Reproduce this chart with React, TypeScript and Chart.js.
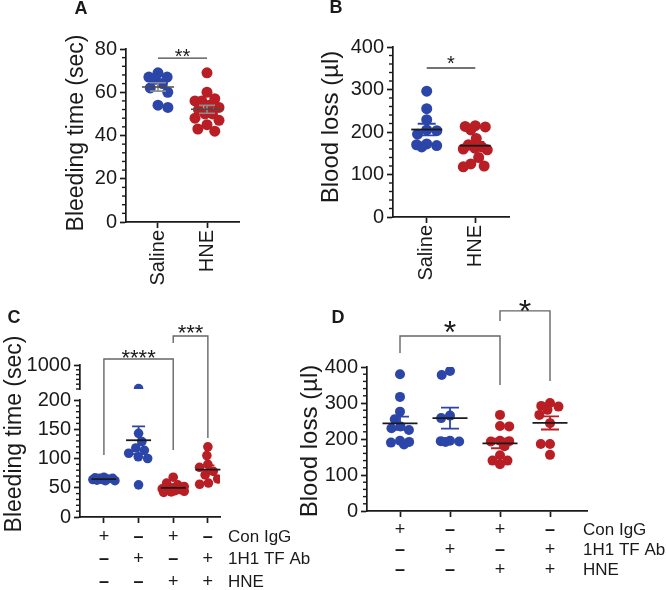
import React, { useEffect, useRef } from 'react';
import { Chart, registerables } from 'chart.js';

Chart.register(...registerables);

const FONT = "'Liberation Sans', Arial, Helvetica, sans-serif";
const BLUE = '#2c45a8';
const RED = '#b81e24';
const INK = '#1a1a1a';

// ---------- Panel A: bleeding time ----------
const aCategories = ['Saline', 'HNE'];
const aSaline = [69, 67, 67, 66, 64, 62, 60, 54, 53];
const aHNE = [69, 60, 57, 56, 56, 54, 53, 52, 50, 50, 48, 47, 45, 43, 42];
const aYTicks = [0, 20, 40, 60, 80];
const aYTitle = 'Bleeding time (sec)';
const aStars = ['**'];

// ---------- Panel B: blood loss ----------
const bCategories = ['Saline', 'HNE'];
const bSaline = [296, 255, 229, 205, 203, 195, 172, 170, 168, 165];
const bHNE = [215, 213, 212, 205, 185, 170, 165, 162, 160, 158, 140, 125, 120, 118];
const bYTicks = [0, 100, 200, 300, 400];
const bYTitle = 'Blood loss (µl)';
const bStars = ['*'];

// ---------- Panel C: bleeding time (broken axis) ----------
const cConIgG = [68, 67, 66, 66, 65, 64, 64, 63, 62, 62];
const c1H1 = [310, 143, 129, 118, 114, 109, 103, 100, 55];
const cHNE = [68, 58, 55, 52, 50, 48, 47, 46, 45, 44, 43, 42];
const c1H1HNE = [120, 105, 90, 85, 78, 72, 65, 58, 56];
const cLowerTicks = [0, 50, 100, 150, 200];
const cUpperTicks = [1000];
const cYTitle = 'Bleeding time (sec)';
const cStars = ['****', '***'];

// ---------- Panel D: blood loss ----------
const dConIgG = [380, 317, 276, 255, 235, 230, 225, 195, 192, 190, 185];
const d1H1 = [389, 378, 265, 258, 195, 194, 193, 192];
const dHNE = [267, 236, 235, 195, 194, 193, 180, 155, 140, 140, 130];
const d1H1HNE = [300, 292, 290, 281, 267, 244, 186, 186, 156];
const dYTicks = [0, 100, 200, 300, 400];
const dYTitle = 'Blood loss (µl)';
const dStars = ['*', '*'];

// ---------- treatment table (C and D) ----------
const rowLabels = ['Con IgG', '1H1 TF Ab', 'HNE'];
const rowConIgG = ['+', '–', '+', '–'];
const row1H1 = ['–', '+', '–', '+'];
const rowHNE = ['–', '–', '+', '+'];

type Bracket = { g1: number; g2: number; top: number; leg1: number; leg2: number; text: string; font: number; gap: number; color: string };
type Spec = {
  letter: string; letterAt: [number, number];
  box: { left: number; top: number; width: number; height: number };
  area: { left: number; top: number; right: number; bottom: number };
  groups: number[][]; colors: string[]; categories?: string[];
  xMin: number; xMax: number;
  yMin: number; yMax: number; yTicks: number[]; yMinor: number;
  upper?: { min: number; max: number; ticks: number[]; minor: number; weights: [number, number, number] };
  title: string; titleSize: number; titleAt: [number, number];
  radius: number; maxHalf: number; meanHalf: number; capHalf: number; meanColor: string; semColor?: string; lineW: number;
  brackets: Bracket[];
  table?: { rowY: number[]; labelX: number; labelSize: number; signSize: number };
};

const specs: Spec[] = [
  {
    letter: 'A', letterAt: [81, 9],
    box: { left: 0, top: 0, width: 300, height: 300 },
    area: { left: 126, top: 49, right: 239, bottom: 222 },
    groups: [aSaline, aHNE], colors: [BLUE, RED], categories: aCategories,
    xMin: 0.347, xMax: 2.653, yMin: 0, yMax: 80, yTicks: aYTicks, yMinor: 4,
    title: aYTitle, titleSize: 23, titleAt: [77, 133],
    radius: 5.5, maxHalf: 12, meanHalf: 16, capHalf: 8, meanColor: '#4a4a4a', semColor: '#8c8c8c', lineW: 1.6,
    brackets: [{ g1: 1, g2: 2, top: 75.8, leg1: 75.8, leg2: 75.8, text: aStars[0], font: 20, gap: 7, color: '#444' }],
  },
  {
    letter: 'B', letterAt: [46, 8],
    box: { left: 290, top: 0, width: 376, height: 300 },
    area: { left: 103, top: 47, right: 219, bottom: 217 },
    groups: [bSaline, bHNE], colors: [BLUE, RED], categories: bCategories,
    xMin: 0.306, xMax: 2.694, yMin: 0, yMax: 400, yTicks: bYTicks, yMinor: 20,
    title: bYTitle, titleSize: 24, titleAt: [41, 127],
    radius: 5.5, maxHalf: 12, meanHalf: 15.5, capHalf: 9, meanColor: INK, lineW: 1.8,
    brackets: [{ g1: 1, g2: 2, top: 350.6, leg1: 350.6, leg2: 350.6, text: bStars[0], font: 20, gap: 9, color: '#444' }],
  },
  {
    letter: 'C', letterAt: [14, 28],
    box: { left: 0, top: 290, width: 330, height: 300 },
    area: { left: 80, top: 75, right: 220, bottom: 227 },
    groups: [cConIgG, c1H1, cHNE, c1H1HNE], colors: [BLUE, BLUE, RED, RED],
    xMin: 0.31, xMax: 4.35, yMin: 0, yMax: 200, yTicks: cLowerTicks, yMinor: 10,
    upper: { min: 300, max: 1000, ticks: cUpperTicks, minor: 140, weights: [117, 11, 24] },
    title: cYTitle, titleSize: 23, titleAt: [15, 144],
    radius: 4.8, maxHalf: 11, meanHalf: 12.5, capHalf: 6.5, meanColor: INK, lineW: 1.8,
    brackets: [
      { g1: 1, g2: 3, top: 270, leg1: 106, leg2: 114.5, text: cStars[0], font: 22, gap: 6.5, color: '#666' },
      { g1: 3, g2: 4, top: 309.4, leg1: 297.4, leg2: 135, text: cStars[1], font: 22, gap: 8.5, color: '#666' },
    ],
    table: { rowY: [247, 269, 292], labelX: 228, labelSize: 17, signSize: 18 },
  },
  {
    letter: 'D', letterAt: [48, 28],
    box: { left: 290, top: 290, width: 376, height: 300 },
    area: { left: 77, top: 77, right: 297, bottom: 221 },
    groups: [dConIgG, d1H1, dHNE, d1H1HNE], colors: [BLUE, BLUE, RED, RED],
    xMin: 0.34, xMax: 4.74, yMin: 0, yMax: 400, yTicks: dYTicks, yMinor: 20,
    title: dYTitle, titleSize: 24, titleAt: [20, 151],
    radius: 5, maxHalf: 12, meanHalf: 17.5, capHalf: 9, meanColor: INK, lineW: 1.8,
    brackets: [
      { g1: 1, g2: 3, top: 486, leg1: 439, leg2: 350, text: dStars[0], font: 32, gap: 11, color: '#666' },
      { g1: 3, g2: 4, top: 556, leg1: 528, leg2: 361, text: dStars[1], font: 32, gap: 7, color: '#666' },
    ],
    table: { rowY: [240, 260, 280], labelX: 293, labelSize: 17, signSize: 18 },
  },
];

function swarmOffsets(values: number[], toPx: (v: number) => number, d: number, maxHalf: number): number[] {
  const order = values.map((_, i) => i).sort((a, b) => values[b] - values[a]);
  const placed: { x: number; y: number }[] = [];
  const out = values.map(() => 0);
  const minDist = (cx: number, cy: number) =>
    placed.reduce((m, p) => Math.min(m, Math.hypot(p.x - cx, p.y - cy)), Infinity);
  let flip = 1;
  for (const i of order) {
    const y = toPx(values[i]);
    const cands = [0];
    for (const p of placed) {
      const dy = Math.abs(p.y - y);
      if (dy < d) {
        const dx = Math.sqrt(d * d - dy * dy);
        cands.push(p.x + dx, p.x - dx);
      }
    }
    cands.sort((a, b) => Math.abs(a) - Math.abs(b) || (b - a) * flip);
    let chosen: number | null = null;
    for (const c of cands) {
      if (Math.abs(c) <= maxHalf + 1e-6 && minDist(c, y) >= d - 1e-6) { chosen = c; break; }
    }
    if (chosen === null) {
      let best = 0, bestD = -1;
      for (let c = -maxHalf; c <= maxHalf + 1e-6; c += 0.5) {
        const md = minDist(c, y);
        if (md > bestD + 1e-6 || (Math.abs(md - bestD) < 1e-6 && Math.abs(c) < Math.abs(best))) { bestD = md; best = c; }
      }
      chosen = best;
    }
    flip = -flip;
    placed.push({ x: chosen, y });
    out[i] = chosen;
  }
  return out;
}

function stats(vals: number[]) {
  const n = vals.length;
  const mean = vals.reduce((a, b) => a + b, 0) / n;
  const sd = Math.sqrt(vals.reduce((a, v) => a + (v - mean) ** 2, 0) / (n - 1));
  return { mean, sem: sd / Math.sqrt(n) };
}

function buildChart(canvas: HTMLCanvasElement, s: Spec) {
  const areaW = s.area.right - s.area.left;
  const areaH = s.area.bottom - s.area.top;
  const pxPerX = areaW / (s.xMax - s.xMin);
  let lowerH = areaH, gapH = 0, upperH = 0;
  if (s.upper) {
    const [a, b, c] = s.upper.weights;
    const t = a + b + c;
    lowerH = (areaH * a) / t; gapH = (areaH * b) / t; upperH = (areaH * c) / t;
  }
  const toPx = (v: number) =>
    !s.upper || v <= s.yMax
      ? ((v - s.yMin) / (s.yMax - s.yMin)) * lowerH
      : lowerH + gapH + ((v - s.upper.min) / (s.upper.max - s.upper.min)) * upperH;

  const datasets: any[] = [];
  s.groups.forEach((vals, gi) => {
    const offs = swarmOffsets(vals, toPx, s.radius * 2 * 0.92, s.maxHalf);
    const low: any[] = [], high: any[] = [];
    vals.forEach((v, i) => {
      const pt = { x: gi + 1 + offs[i] / pxPerX, y: v };
      (s.upper && v > s.yMax ? high : low).push(pt);
    });
    const style = {
      backgroundColor: s.colors[gi], borderColor: s.colors[gi], pointBackgroundColor: s.colors[gi],
      pointRadius: s.radius, pointHoverRadius: s.radius, pointBorderWidth: 0, borderWidth: 0, showLine: false,
    };
    datasets.push({ data: low, yAxisID: 'y', ...style });
    if (high.length) datasets.push({ data: high, yAxisID: 'yTop', clip: 0, ...style });
  });

  const tickFont = { family: FONT, size: 20 };
  const yScale = (min: number, max: number, ticks: number[], extra: any = {}) => ({
    type: 'linear', position: 'left', min, max,
    afterBuildTicks: (sc: any) => { sc.ticks = ticks.map((v) => ({ value: v })); },
    afterFit: (sc: any) => { sc.width = s.area.left; },
    border: { display: true, color: INK, width: 1.7 },
    grid: { display: true, drawOnChartArea: false, drawTicks: true, tickLength: 6, tickWidth: 1.7, tickColor: INK },
    ticks: { font: tickFont, color: INK, padding: 3, autoSkip: false, callback: (v: any) => String(v) },
    ...extra,
  });

  const scales: any = {
    x: {
      type: 'linear', position: 'bottom', min: s.xMin, max: s.xMax,
      afterBuildTicks: (sc: any) => { sc.ticks = s.groups.map((_, i) => ({ value: i + 1 })); },
      afterFit: (sc: any) => { sc.height = s.box.height - s.area.bottom; },
      border: { display: true, color: INK, width: 1.7 },
      grid: { display: true, drawOnChartArea: false, drawTicks: true, tickLength: 6, tickWidth: 1.7, tickColor: INK },
      ticks: {
        display: !!s.categories, font: tickFont, color: INK, padding: 2, minRotation: 90, maxRotation: 90, autoSkip: false,
        callback: (_v: any, i: number) => (s.categories ? s.categories[i] : ''),
      },
    },
  };
  if (s.upper) {
    const [a, b, c] = s.upper.weights;
    scales.y = yScale(s.yMin, s.yMax, s.yTicks, { stack: 'left', stackWeight: a });
    scales.yGap = { type: 'linear', position: 'left', min: 0, max: 1, display: false, stack: 'left', stackWeight: b, afterFit: (sc: any) => { sc.width = s.area.left; } };
    scales.yTop = yScale(s.upper.min, s.upper.max, s.upper.ticks, { stack: 'left', stackWeight: c });
  } else {
    scales.y = yScale(s.yMin, s.yMax, s.yTicks);
  }

  const extras = {
    id: 'extras' + s.letter,
    // points above the axis break are clipped to the upper segment
    beforeDatasetDraw(chart: any, args: any) {
      const meta = args.meta;
      if (meta.yAxisID === 'yTop') {
        const sc = chart.scales.yTop;
        const ctx = chart.ctx;
        ctx.save();
        ctx.beginPath();
        ctx.rect(chart.chartArea.left - 20, sc.top, chart.chartArea.right - chart.chartArea.left + 40, sc.bottom - sc.top);
        ctx.clip();
      }
    },
    afterDatasetDraw(chart: any, args: any) {
      if (args.meta.yAxisID === 'yTop') chart.ctx.restore();
    },
    afterDraw(chart: any) {
      const ctx: CanvasRenderingContext2D = chart.ctx;
      const xs = chart.scales.x;
      const ys = chart.scales.y;
      ctx.save();
      // minor ticks
      const minor = (sc: any, min: number, max: number, step: number, majors: number[]) => {
        ctx.strokeStyle = INK; ctx.lineWidth = 1.4;
        for (let v = min; v <= max + 1e-9; v += step) {
          if (majors.some((m) => Math.abs(m - v) < 1e-6)) continue;
          const py = sc.getPixelForValue(v);
          ctx.beginPath(); ctx.moveTo(sc.right - 4, py); ctx.lineTo(sc.right, py); ctx.stroke();
        }
      };
      minor(ys, s.yMin, s.yMax, s.yMinor, s.yTicks);
      if (s.upper) minor(chart.scales.yTop, s.upper.min, s.upper.max, s.upper.minor, s.upper.ticks);

      // y title
      ctx.save();
      ctx.translate(s.titleAt[0], s.titleAt[1]);
      ctx.rotate(-Math.PI / 2);
      ctx.font = `${s.titleSize}px ${FONT}`;
      ctx.fillStyle = INK; ctx.textAlign = 'center'; ctx.textBaseline = 'middle';
      ctx.fillText(s.title, 0, 0);
      ctx.restore();

      // panel letter
      ctx.font = `bold 18px ${FONT}`;
      ctx.fillStyle = INK; ctx.textAlign = 'center'; ctx.textBaseline = 'middle';
      ctx.fillText(s.letter, s.letterAt[0], s.letterAt[1]);

      // mean ± SEM
      s.groups.forEach((vals, gi) => {
        const { mean, sem } = stats(vals);
        const x = xs.getPixelForValue(gi + 1);
        const ym = ys.getPixelForValue(mean);
        const yt = ys.getPixelForValue(mean + sem);
        const yb = ys.getPixelForValue(mean - sem);
        ctx.lineWidth = s.lineW;
        ctx.strokeStyle = s.semColor || s.colors[gi];
        ctx.beginPath();
        ctx.moveTo(x, yt); ctx.lineTo(x, yb);
        ctx.moveTo(x - s.capHalf, yt); ctx.lineTo(x + s.capHalf, yt);
        ctx.moveTo(x - s.capHalf, yb); ctx.lineTo(x + s.capHalf, yb);
        ctx.stroke();
        ctx.strokeStyle = s.meanColor;
        ctx.beginPath(); ctx.moveTo(x - s.meanHalf, ym); ctx.lineTo(x + s.meanHalf, ym); ctx.stroke();
      });

      // significance brackets
      for (const b of s.brackets) {
        const x1 = xs.getPixelForValue(b.g1), x2 = xs.getPixelForValue(b.g2);
        const yt = ys.getPixelForValue(b.top);
        const y1 = ys.getPixelForValue(b.leg1), y2 = ys.getPixelForValue(b.leg2);
        ctx.strokeStyle = b.color; ctx.lineWidth = 1.4;
        ctx.beginPath(); ctx.moveTo(x1, y1); ctx.lineTo(x1, yt); ctx.lineTo(x2, yt); ctx.lineTo(x2, y2); ctx.stroke();
        ctx.font = `${b.font}px ${FONT}`;
        ctx.fillStyle = INK; ctx.textAlign = 'center'; ctx.textBaseline = 'alphabetic';
        ctx.fillText(b.text, (x1 + x2) / 2, yt - b.gap + 0.575 * b.font);
      }

      // treatment table
      if (s.table) {
        const rows = [rowConIgG, row1H1, rowHNE];
        rows.forEach((row, ri) => {
          const y = s.table!.rowY[ri];
          ctx.fillStyle = INK; ctx.textBaseline = 'middle';
          row.forEach((sym, gi) => {
            ctx.font = `${sym === '+' ? '' : 'bold '}${s.table!.signSize}px ${FONT}`;
            ctx.textAlign = 'center';
            ctx.fillText(sym, xs.getPixelForValue(gi + 1), y);
          });
          ctx.font = `${s.table!.labelSize}px ${FONT}`;
          ctx.textAlign = 'left';
          ctx.fillText(rowLabels[ri], s.table!.labelX, y);
        });
      }
      ctx.restore();
    },
  };

  return new Chart(canvas, {
    type: 'scatter',
    data: { datasets },
    options: {
      responsive: false,
      animation: false,
      events: [],
      layout: { autoPadding: false, padding: { left: 0, top: s.area.top, right: s.box.width - s.area.right, bottom: 0 } },
      plugins: { legend: { display: false }, tooltip: { enabled: false }, title: { display: false } },
      scales,
    } as any,
    plugins: [extras],
  });
}

function Panel({ spec }: { spec: Spec }) {
  const ref = useRef<HTMLCanvasElement>(null);
  useEffect(() => {
    if (!ref.current) return;
    const chart = buildChart(ref.current, spec);
    return () => chart.destroy();
  }, [spec]);
  const b = spec.box;
  return (
    <canvas
      ref={ref}
      width={b.width}
      height={b.height}
      style={{ position: 'absolute', left: b.left, top: b.top, width: b.width, height: b.height }}
    />
  );
}

export default function App() {
  return (
    <div style={{ position: 'absolute', left: 0, top: 0, width: 666, height: 590, background: '#fff', overflow: 'hidden' }}>
      {specs.map((s) => (
        <Panel key={s.letter} spec={s} />
      ))}
    </div>
  );
}
